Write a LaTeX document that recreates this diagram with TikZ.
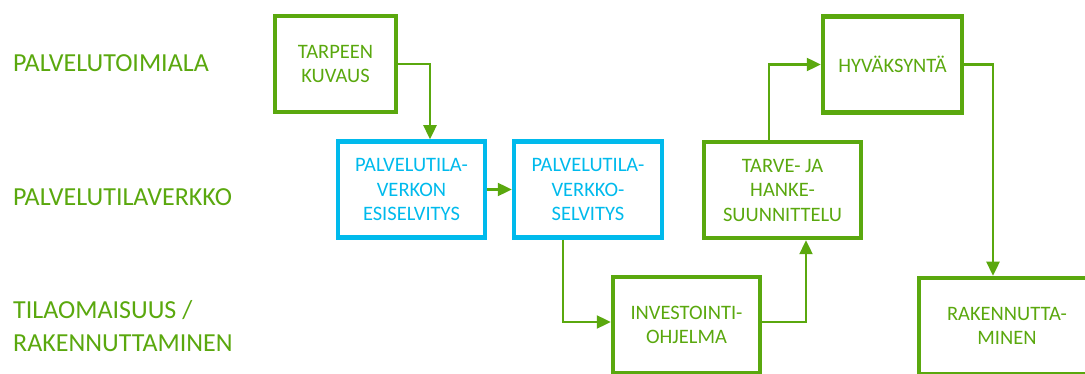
\documentclass[tikz,border=0pt]{standalone}
\usepackage{fontspec}
\setmainfont{Carlito}
\usepackage{tikz}
\usetikzlibrary{arrows.meta,calc}
\definecolor{procgreen}{RGB}{90,168,14}
\definecolor{netblue}{RGB}{0,186,236}
\tikzset{
    stage/.style={draw=procgreen, text=procgreen, line width=4.5pt, minimum height=96pt,
        inner sep=0pt, align=center, font=\fontsize{20.5}{24.5}\selectfont},
    netstage/.style={stage, draw=netblue, text=netblue},
    lane/.style={text=procgreen, anchor=west, inner sep=0pt, align=left,
        font=\fontsize{26}{33}\selectfont},
    flow/.style={draw=procgreen, line width=2.4pt, -{Triangle[length=14pt,width=13pt]}},
}

\begin{document}
\begin{tikzpicture}[x=1pt,y=-1pt]
\useasboundingbox (0,0) rectangle (1085,374);

% lanes
\node[lane] (laneA) at (13,63) {PALVELUTOIMIALA};
\node[lane] (laneB) at (13,197) {PALVELUTILAVERKKO};
\node[lane] (laneC) at (13,326) {TILAOMAISUUS /\\RAKENNUTTAMINEN};

% stages
\node[stage, minimum width=121pt] (tarpeen) at (335.5,64) {TARPEEN\\KUVAUS};
\node[netstage, minimum width=147pt] (esisel) at (411.5,189.5) {PALVELUTILA-\\VERKON\\ESISELVITYS};
\node[netstage, minimum width=148pt] (selvitys) at (588,189.5) {PALVELUTILA-\\VERKKO-\\SELVITYS};
\node[stage, minimum width=147pt] (investointi) at (686.5,325) {INVESTOINTI-\\OHJELMA};
\node[stage, minimum width=157pt] (suunnittelu) at (782.5,190) {TARVE- JA\\HANKE-\\SUUNNITTELU};
\node[stage, minimum width=139pt] (hyvaksynta) at (892.5,64.5) {HYVÄKSYNTÄ};
\node[stage, minimum width=176pt] (rakennutta) at (1007,326) {RAKENNUTTA-\\MINEN};

% flow
\draw[flow] (tarpeen.east) -| ($(esisel.north)+(18.5,0)$);
\draw[flow] (esisel.east) -- (selvitys.west);
\draw[flow] ($(selvitys.south)+(-25,0)$) |- ($(investointi.west)+(0,-3)$);
\draw[flow] ($(investointi.east)+(0,-3)$) -| ($(suunnittelu.south)+(23.5,0)$);
\draw[flow] ($(suunnittelu.north)+(-13.5,0)$) |- (hyvaksynta.west);
\draw[flow] (hyvaksynta.east) -| ($(rakennutta.north)+(-14,0)$);
\end{tikzpicture}
\end{document}
